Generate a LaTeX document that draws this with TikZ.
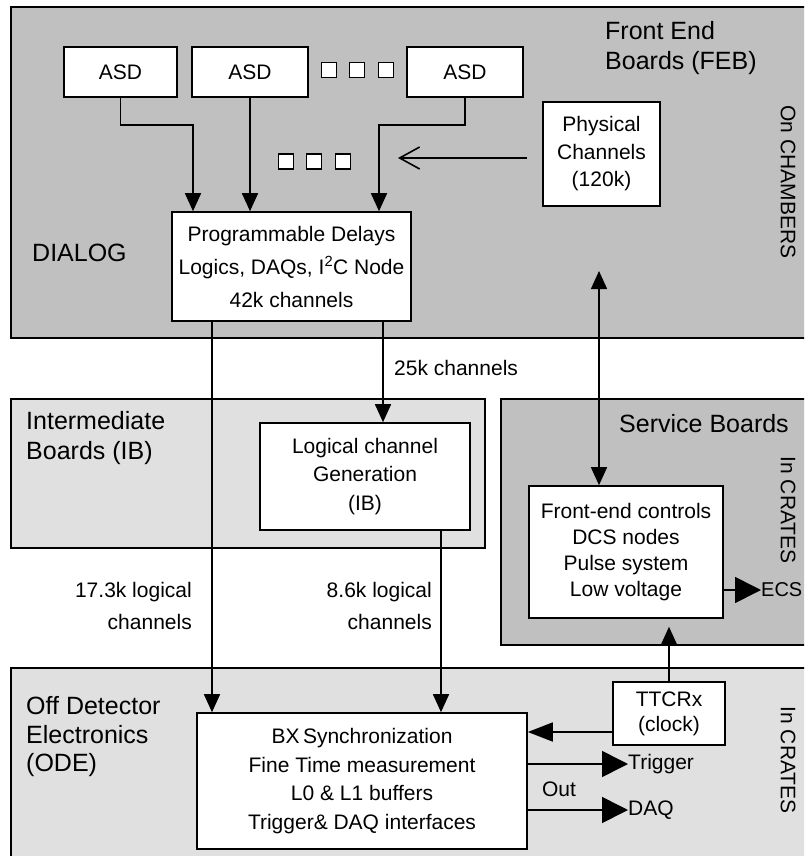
\documentclass[tikz,border=0pt]{standalone}
\usepackage{fontspec}
\setmainfont{Liberation Sans}
\usetikzlibrary{arrows.meta}
\definecolor{darkg}{gray}{0.753}
\definecolor{lightg}{gray}{0.878}
\begin{document}
\begin{tikzpicture}[x=1pt,y=-1pt,
  region/.style={draw=black, line width=1.8pt},
  box/.style={draw=black, fill=white, line width=1.6pt, inner sep=0pt, align=center},
  sq/.style={draw=black, fill=white, line width=1.6pt, inner sep=0pt, minimum size=15pt},
  lab/.style={inner sep=0pt, font=\fontsize{21}{32}\selectfont},
  big/.style={inner sep=0pt, align=left},
  conn/.style={line width=1.6pt},
  arr/.style={conn, -{Triangle[length=18pt,width=16pt]}},
  bigarr/.style={conn, -{Triangle[length=26pt,width=26pt]}},
  midarr/.style={conn, -{Triangle[length=25pt,width=19pt]}},
  openarr/.style={conn, -{Straight Barb[length=20pt,width=22pt]}},
]
\useasboundingbox (0,0) rectangle (804,856);
\clip (0,0) rectangle (804,856);

% regions
\filldraw[region, fill=darkg] (11,7) rectangle (820,338);
\filldraw[region, fill=lightg] (11,399) rectangle (485,548);
\filldraw[region, fill=darkg] (501,399) rectangle (820,645);
\filldraw[region, fill=lightg] (11,668) rectangle (820,880);

% region labels
\node[big, anchor=west, font=\fontsize{25}{30}\selectfont] (feb) at (605,48) {Front End\\Boards (FEB)};
\node[big, anchor=west, font=\fontsize{25}{30}\selectfont] (dialog) at (32,253) {DIALOG};
\node[big, anchor=west, font=\fontsize{25}{30}\selectfont] (ibl) at (26,438) {Intermediate\\Boards (IB)};
\node[big, anchor=center, font=\fontsize{25}{30}\selectfont] (sbl) at (704,424) {Service Boards};
\node[big, anchor=west, font=\fontsize{25}{28.5}\selectfont] (odel) at (26,737) {Off Detector\\Electronics\\(ODE)};
\node[lab, rotate=-90] (onch) at (788,182) {On CHAMBERS};
\node[lab, rotate=-90] (crates1) at (788,510) {In CRATES};
\node[lab, rotate=-90] (crates2) at (788,760) {In CRATES};

% boxes
\node[box, minimum width=113pt, minimum height=50pt, font=\fontsize{21}{26}\selectfont] (asd1) at (120.5,72) {ASD};
\node[box, minimum width=116pt, minimum height=50pt, font=\fontsize{21}{26}\selectfont] (asd2) at (250,72) {ASD};
\node[box, minimum width=116pt, minimum height=50pt, font=\fontsize{21}{26}\selectfont] (asd3) at (465,72) {ASD};
\node[box, minimum width=117pt, minimum height=104pt, font=\fontsize{21}{27.5}\selectfont] (phys) at (601.5,154) {Physical\\Channels\\(120k)};
\node[box, minimum width=239pt, minimum height=109pt, font=\fontsize{21}{33}\selectfont] (prog) at (291.5,266.5) {Programmable Delays\\Logics, DAQs, I\textsuperscript{2}C Node\\42k channels};
\node[box, minimum width=210pt, minimum height=107pt, font=\fontsize{21}{28.5}\selectfont] (logic) at (365,476.5) {Logical channel\\Generation\\(IB)};
\node[box, minimum width=194pt, minimum height=132pt, font=\fontsize{21}{25.8}\selectfont] (fe) at (626,552) {Front-end controls\\DCS nodes\\Pulse system\\Low voltage};
\node[box, minimum width=330pt, minimum height=136pt, font=\fontsize{21}{28.7}\selectfont] (bx) at (362,781) {BX\,Synchronization\\Fine Time measurement\\L0 \& L1 buffers\\Trigger\& DAQ interfaces};
\node[box, minimum width=112pt, minimum height=63pt, font=\fontsize{21}{25}\selectfont] (ttc) at (669,713.5) {TTCRx\\(clock)};

% dots
\node[sq] (d1) at (329,70) {};
\node[sq] (d2) at (357,70) {};
\node[sq] (d3) at (386,70) {};
\node[sq] (e1) at (286,161.5) {};
\node[sq] (e2) at (314,161.5) {};
\node[sq] (e3) at (343,161.5) {};

% ASD -> prog
\coordinate (j1) at (193,125);
\coordinate (j3) at (379,125);
\draw[arr] (asd1.south) |- (j1) -- (j1 |- prog.north);
\draw[arr] (asd2.south) -- (asd2.south |- prog.north);
\draw[arr] (asd3.south) |- (j3) -- (j3 |- prog.north);

% physical channels arrow
\coordinate (ptip) at (398,158);
\coordinate (pstart) at (527,158);
\draw[openarr] (pstart) -- (ptip);

% prog -> bx, prog -> logic, logic -> bx
\coordinate (xa) at (212,0);
\coordinate (xb) at (383,0);
\coordinate (xc) at (441,0);
\draw[arr] (xa |- prog.south) -- (xa |- bx.north);
\draw[arr] (xb |- prog.south) -- (xb |- logic.north);
\draw[arr] (xc |- logic.south) -- (xc |- bx.north);
\node[lab, anchor=west] (l25) at (394,368) {25k channels};
\node[lab, anchor=east, align=right] (l173) at (192,606) {17.3k logical\\channels};
\node[lab, anchor=east, align=right] (l86) at (432,606) {8.6k logical\\channels};

% bidirectional
\coordinate (btop) at (599,271);
\draw[conn, {Triangle[length=18pt,width=16pt]}-{Triangle[length=18pt,width=16pt]}] (btop) -- (btop |- fe.north);

% ECS
\node[lab, anchor=west, font=\fontsize{20}{24}\selectfont] (ecs) at (761,590) {ECS};
\draw[bigarr] (fe.east |- ecs) -- (ecs.west);

% TTCRx
\draw[arr, shorten >=8pt] (ttc.north) -- (ttc.north |- fe.south);
\draw[midarr] ([yshift=-18.5pt]ttc.west) -- ([yshift=-18.5pt]ttc.west -| bx.east);

% outputs
\node[lab, anchor=west] (trig) at (628,764) {Trigger};
\node[lab, anchor=west] (daq) at (628,810) {DAQ};
\draw[bigarr] (bx.east |- trig) -- (trig.west);
\draw[bigarr] (bx.east |- daq) -- (daq.west);
\node[lab] (out) at (559,789) {Out};
\end{tikzpicture}
\end{document}
